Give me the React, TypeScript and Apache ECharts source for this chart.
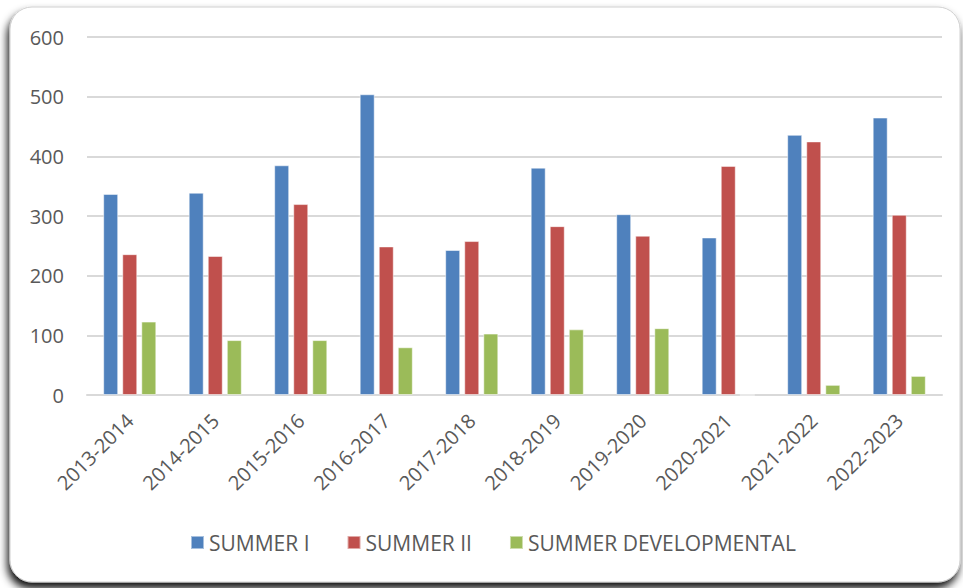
import React, { useEffect, useRef } from "react";
import * as echarts from "echarts";

const categories = ["2013-2014", "2014-2015", "2015-2016", "2016-2017", "2017-2018", "2018-2019", "2019-2020", "2020-2021", "2021-2022", "2022-2023"];
const summerI = [337, 339, 385, 504, 243, 381, 303, 264, 436, 465];
const summerII = [236, 233, 320, 249, 258, 283, 267, 384, 425, 302];
const summerDev = [123, 92, 92, 80, 103, 110, 112, 0, 17, 32];
const seriesNames = ["SUMMER I", "SUMMER II", "SUMMER DEVELOPMENTAL"];
const colors = ["#4f81bd", "#c0504d", "#9bbb59"];

const FONT = "'Open Sans', sans-serif";

export default function App() {
  const ref = useRef<HTMLDivElement>(null);
  useEffect(() => {
    const chart = echarts.init(ref.current!, null, { renderer: "svg" });
    const data = [summerI, summerII, summerDev];
    chart.setOption({
      animation: false,
      backgroundColor: "#ffffff",
      textStyle: { fontFamily: FONT },
      graphic: [
        {
          type: "rect",
          z: -10,
          silent: true,
          shape: { x: 10, y: 7, width: 950, height: 575, r: 22 },
          style: {
            fill: "#ffffff",
            stroke: "#d0d0d0",
            lineWidth: 1,
            shadowBlur: 8,
            shadowColor: "rgba(0,0,0,0.95)",
            shadowOffsetX: -2,
            shadowOffsetY: 6,
          },
        },
      ],
      grid: { left: 87, right: 21, top: 37, bottom: 193, containLabel: false },
      legend: {
        top: 532,
        left: 190,
        padding: 0,
        itemWidth: 13,
        itemHeight: 13,
        itemGap: 37,
        icon: "rect",
        textStyle: { color: "#595959", fontSize: 21, fontFamily: FONT },
        data: seriesNames,
      },
      xAxis: {
        type: "category",
        data: categories,
        axisLine: { lineStyle: { color: "#d9d9d9", width: 2 } },
        axisTick: { show: false },
        axisLabel: { rotate: 45, color: "#595959", fontSize: 20, fontFamily: FONT, margin: 22 },
      },
      yAxis: {
        type: "value",
        min: 0,
        max: 600,
        interval: 100,
        axisLine: { show: false },
        axisTick: { show: false },
        axisLabel: { color: "#595959", fontSize: 20, fontFamily: FONT, margin: 23 },
        splitLine: { lineStyle: { color: "#d9d9d9", width: 2 } },
      },
      series: seriesNames.map((name, i) => ({
        name,
        type: "bar",
        data: data[i],
        barWidth: 15,
        barGap: "27%",
        itemStyle: { color: colors[i], borderColor: "rgba(255,255,255,0.5)", borderWidth: 1 },
      })),
    });
    return () => chart.dispose();
  }, []);
  return (
    <div
      ref={ref}
      style={{ position: "fixed", left: 0, top: 0, width: 963, height: 588 }}
    />
  );
}
